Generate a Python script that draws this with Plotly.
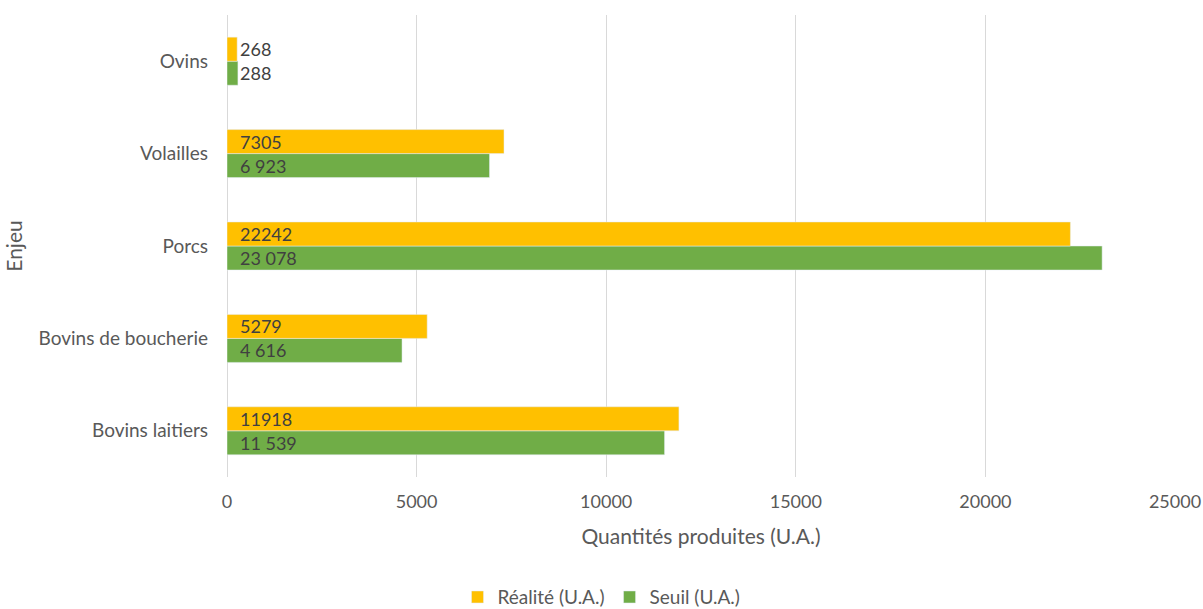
import plotly.graph_objects as go

# Catégories (de bas en haut) et valeurs
enjeux = ["Bovins laitiers", "Bovins de boucherie", "Porcs", "Volailles", "Ovins"]
realite = [11918, 5279, 22242, 7305, 268]
seuil = [11539, 4616, 23078, 6923, 288]

COL_REAL = "#FFC000"
COL_SEUIL = "#70AD47"
TXT = "#595959"
LBL = "#404040"
FONT = "Lato, Calibri, Arial, sans-serif"
FS = 18

fig = go.Figure()
fig.add_trace(go.Bar(
    y=enjeux, x=seuil, name="Seuil (U.A.)", orientation="h",
    marker=dict(color=COL_SEUIL), legendrank=2,
))
fig.add_trace(go.Bar(
    y=enjeux, x=realite, name="Réalité (U.A.)", orientation="h",
    marker=dict(color=COL_REAL), legendrank=1,
))


def fmt_space(v):
    return f"{v:,}".replace(",", " ")


# Étiquettes de valeurs placées près de la base des barres
annots = []
for cat, r, s in zip(enjeux, realite, seuil):
    annots.append(dict(x=0, y=cat, text=str(r), xanchor="left", xshift=11,
                       yshift=12, showarrow=False,
                       font=dict(family=FONT, size=FS, color=LBL)))
    annots.append(dict(x=0, y=cat, text=fmt_space(s), xanchor="left", xshift=11,
                       yshift=-12, showarrow=False,
                       font=dict(family=FONT, size=FS, color=LBL)))

fig.update_layout(
    width=1203, height=609,
    margin=dict(l=227, r=28, t=15, b=132, autoexpand=False),
    paper_bgcolor="white", plot_bgcolor="white",
    barmode="group", bargap=0.48, bargroupgap=0,
    font=dict(family=FONT, size=FS, color=TXT),
    annotations=annots,
    legend=dict(orientation="h", xref="container", x=0.5, xanchor="center",
                y=-0.26, yanchor="middle",
                font=dict(family=FONT, size=19, color=TXT)),
    xaxis=dict(
        range=[0, 25000], dtick=5000, tickformat="d", automargin=False,
        showgrid=True, gridcolor="#D9D9D9", gridwidth=1,
        zeroline=True, zerolinecolor="#D9D9D9", zerolinewidth=1,
        showline=False, ticks="", ticklabelstandoff=12,
        tickfont=dict(family=FONT, size=FS, color=TXT),
        title=dict(text="Quantités produites (U.A.)", standoff=18,
                   font=dict(family=FONT, size=21, color=TXT)),
    ),
    yaxis=dict(
        type="category", categoryorder="array", categoryarray=enjeux,
        automargin=False,
        showgrid=False, zeroline=False, showline=False, ticks="",
        ticklabelstandoff=18,
        tickfont=dict(family=FONT, size=19, color=TXT),
        title=dict(text="Enjeu", standoff=10,
                   font=dict(family=FONT, size=21, color=TXT)),
    ),
)

fig.write_html("out.html")
